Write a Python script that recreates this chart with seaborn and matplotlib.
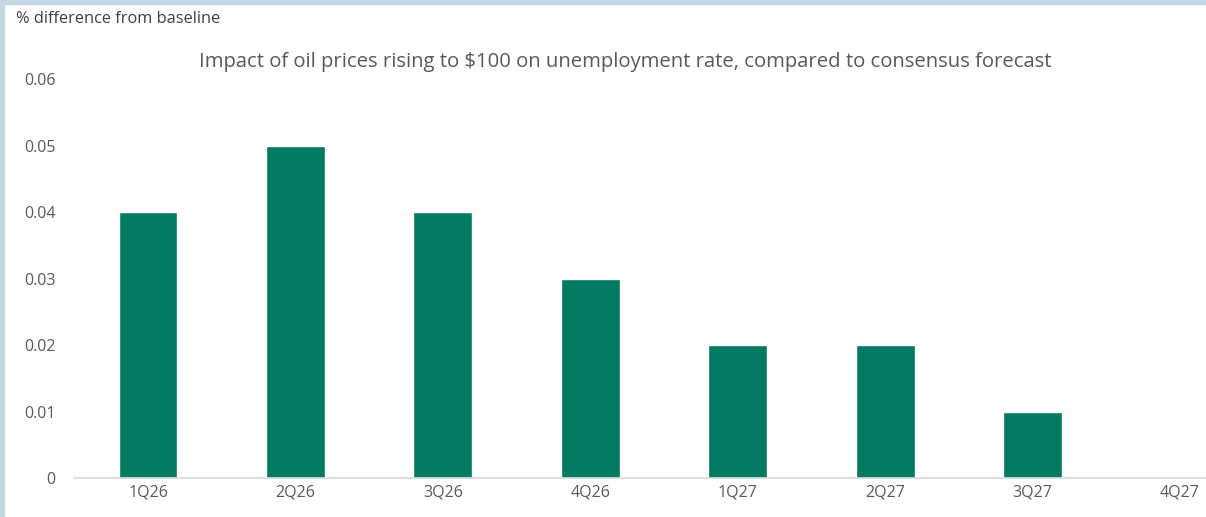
import matplotlib
matplotlib.use("Agg")
import matplotlib.pyplot as plt
import seaborn as sns
import pandas as pd
from matplotlib.patches import Rectangle

quarters = ["1Q26", "2Q26", "3Q26", "4Q26", "1Q27", "2Q27", "3Q27", "4Q27"]
impact = [0.04, 0.05, 0.04, 0.03, 0.02, 0.02, 0.01, 0.0]
y_ticks = [0, 0.01, 0.02, 0.03, 0.04, 0.05, 0.06]
y_tick_labels = ["0", "0.01", "0.02", "0.03", "0.04", "0.05", "0.06"]

sns.set_theme(style="white")
plt.rcParams["font.family"] = ["Open Sans", "DejaVu Sans"]

df = pd.DataFrame({"quarter": quarters, "impact": impact})

fig = plt.figure(figsize=(12.06, 5.17), dpi=100)
ax = fig.add_axes([0.0616, 0.0754, 0.978, 0.7718])

sns.barplot(data=df, x="quarter", y="impact", color="#047A62",
            saturation=1, width=0.4, ax=ax)

ax.set_xlim(-0.5, 7.5)
ax.set_ylim(0, 0.06)
ax.set_yticks(y_ticks)
ax.set_yticklabels(y_tick_labels)
ax.set_xlabel("")
ax.set_ylabel("")
for side in ["top", "right", "left"]:
    ax.spines[side].set_visible(False)
ax.spines["bottom"].set_color("#d9d9d9")
ax.spines["bottom"].set_linewidth(1.2)
ax.tick_params(axis="both", length=0, colors="#595959", labelsize=11.5)
ax.tick_params(axis="y", pad=13.5)
ax.tick_params(axis="x", pad=5)

fig.text(0.5187, 0.880, "Impact of oil prices rising to $100 on unemployment rate, compared to consensus forecast",
         ha="center", va="center", fontsize=14.6, color="#595959")
fig.text(0.013, 0.963, "% difference from baseline", ha="left", va="center",
         fontsize=11.8, color="#404040")

# light blue frame along the top and left edges
fig.patches.append(Rectangle((0, 1 - 4 / 517), 1, 4 / 517, transform=fig.transFigure,
                             color="#c6d6e5", zorder=10))
fig.patches.append(Rectangle((0, 0), 4 / 1206, 1, transform=fig.transFigure,
                             color="#c6d6e5", zorder=10))

fig.savefig("out.png", dpi=100)
